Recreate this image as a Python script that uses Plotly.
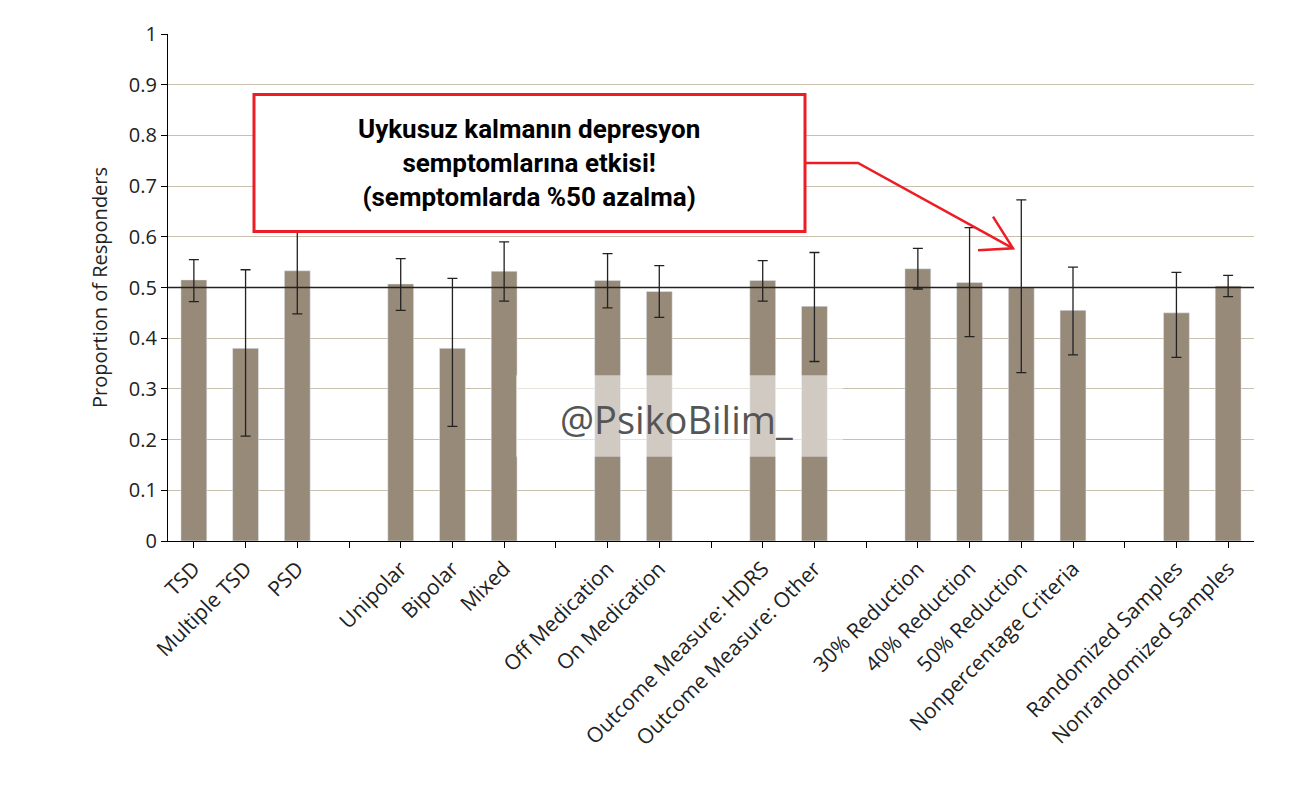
import plotly.graph_objects as go

# slot labels (blank slots make the gaps between groups)
labels = ["TSD", "Multiple TSD", "PSD", "",
          "Unipolar", "Bipolar", "Mixed", "",
          "Off Medication", "On Medication", "",
          "Outcome Measure: HDRS", "Outcome Measure: Other", "",
          "30% Reduction", "40% Reduction", "50% Reduction", "Nonpercentage Criteria", "",
          "Randomized Samples", "Nonrandomized Samples"]
values = [0.515, 0.38, 0.533, None,
          0.507, 0.38, 0.532, None,
          0.514, 0.492, None,
          0.514, 0.463, None,
          0.537, 0.51, 0.50, 0.455, None,
          0.45, 0.503]
upper = [0.555, 0.535, 0.62, None,
         0.557, 0.518, 0.59, None,
         0.567, 0.543, None,
         0.553, 0.569, None,
         0.577, 0.618, 0.673, 0.54, None,
         0.53, 0.524]
lower = [0.472, 0.207, 0.448, None,
         0.455, 0.226, 0.473, None,
         0.46, 0.441, None,
         0.473, 0.354, None,
         0.497, 0.403, 0.332, 0.367, None,
         0.362, 0.482]

idx = [i for i, v in enumerate(values) if v is not None]
ys = [values[i] for i in idx]
err_plus = [upper[i] - values[i] for i in idx]
err_minus = [values[i] - lower[i] for i in idx]

fig = go.Figure(go.Bar(
    x=idx, y=ys, width=0.5, marker_color="#978a79",
    error_y=dict(type="data", array=err_plus, arrayminus=err_minus,
                 color="#222222", thickness=1.3, width=5),
))

L, R, B, T = 160, 1246, 533, 22


def px(x):
    return (x - L) / (R - L)


def py(y):
    return (B - y) / (B - T)


fig.add_hline(y=0.5, line=dict(color="#222222", width=1.3))

# watermark backdrop
fig.add_shape(type="rect", xref="paper", yref="paper", layer="above",
              x0=px(508), x1=px(835), y0=py(448), y1=py(366),
              line=dict(width=0), fillcolor="rgba(255,255,255,0.55)")
# callout box and arrow
fig.add_shape(type="rect", xref="paper", yref="paper", layer="above",
              x0=px(246), x1=px(797), y0=py(221), y1=py(83),
              line=dict(color="#ee1c24", width=3), fillcolor="white")
fig.add_shape(type="path", xref="paper", yref="paper", layer="above",
              path=f"M {px(797)},{py(152)} L {px(850)},{py(152)} L {px(1005)},{py(238)}",
              line=dict(color="#ee1c24", width=2.5))
fig.add_shape(type="path", xref="paper", yref="paper", layer="above",
              path=f"M {px(985)},{py(206)} L {px(1005)},{py(238)} L {px(970)},{py(240)}",
              line=dict(color="#ee1c24", width=2.5))

fig.add_annotation(xref="paper", yref="paper", x=px(521), y=py(152),
                   xanchor="center", yanchor="middle",
                   text="<b>Uykusuz kalmanın depresyon<br>semptomlarına etkisi!<br>(semptomlarda %50 azalma)</b>",
                   showarrow=False, font=dict(family="Roboto", size=26, color="black"))
fig.add_annotation(xref="paper", yref="paper", x=px(668), y=py(410),
                   xanchor="center", yanchor="middle",
                   text="@PsikoBilim_", showarrow=False,
                   font=dict(family="Open Sans", size=38, color="#555555"))

fig.update_layout(
    width=1298, height=798,
    margin=dict(l=L, r=1298 - R, t=T, b=798 - B),
    plot_bgcolor="white", paper_bgcolor="white",
    showlegend=False,
    font=dict(family="Open Sans", size=20, color="#222222"),
    bargap=0.5,
)
fig.update_xaxes(
    range=[-0.5, len(labels) - 0.5], tickmode="array",
    tickvals=list(range(len(labels))), ticktext=labels, tickangle=-45,
    showline=True, linecolor="black", linewidth=1.3,
    ticks="outside", ticklen=6, tickcolor="black", showgrid=False,
    tickfont=dict(size=21),
)
fig.update_yaxes(
    range=[0, 1], dtick=0.1, tickformat="~g",
    title=dict(text="Proportion of Responders", font=dict(size=20)),
    showline=True, linecolor="black", linewidth=1.3,
    ticks="outside", ticklen=6, tickcolor="black",
    gridcolor="#c9bfae", gridwidth=1, zeroline=False,
    tickfont=dict(size=20),
)

fig.write_html("out.html")
